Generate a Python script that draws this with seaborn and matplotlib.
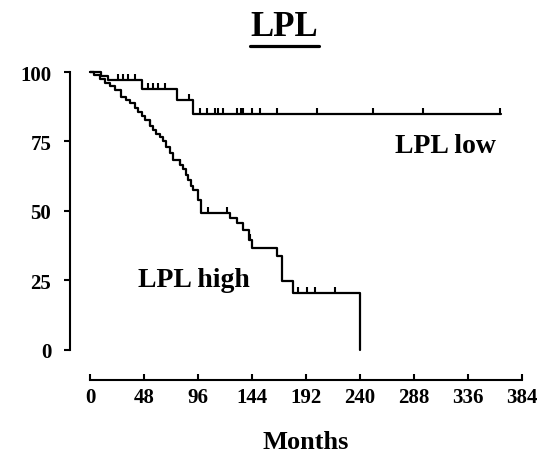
import numpy as np
import pandas as pd
import matplotlib
matplotlib.use('Agg')
import matplotlib.pyplot as plt
import seaborn as sns
from matplotlib.lines import Line2D

# Kaplan-Meier step data (months, survival %)
low_months = [0, 10, 16, 46, 77, 92, 366]
low_surv = [100, 98.5, 97, 94, 90, 85, 85]
low_cens_months = [25, 29.5, 34, 40, 51.6, 56, 60.5, 67, 88, 98, 104, 111, 114, 118,
                   131, 134, 136, 144, 151, 166, 202, 252, 296, 365]

high_months = [0, 4, 9, 13, 18, 22, 28, 32, 36, 40, 43, 46, 49, 53, 56, 59, 62, 65, 68,
               71, 74, 80, 83, 85, 87, 90, 92, 96, 99, 124.5, 130.5, 136.5, 141, 144,
               166, 170.5, 181, 240, 240]
high_surv = [100, 99, 97.5, 96, 95, 93.5, 91, 90, 88.7, 87, 85.7, 84, 82.7, 80.5, 79,
             77.5, 76.5, 75, 73, 71, 68.3, 66.5, 65, 63, 61, 59, 57.5, 54, 49.2, 47.4,
             45.5, 43.2, 39.6, 36.6, 33.6, 24.6, 20.4, 20.4, 0]
high_cens_months = [53, 80, 105, 121.6, 142, 185, 193, 200, 218]

x_ticks = [0, 48, 96, 144, 192, 240, 288, 336, 384]
y_ticks = [0, 25, 50, 75, 100]


def surv_at(months, surv, t):
    idx = np.searchsorted(months, t, side='right') - 1
    return surv[idx]


sns.set_style('ticks')
plt.rcParams['font.family'] = ['Liberation Serif', 'DejaVu Serif']
plt.rcParams['font.weight'] = 'bold'
plt.rcParams['text.color'] = 'black'
plt.rcParams['axes.labelcolor'] = 'black'

fig = plt.figure(figsize=(5.39, 4.56), dpi=100)
ax = fig.add_axes([90 / 539, 105.3 / 456, 431.7 / 539, 277.7 / 456])

df_low = pd.DataFrame({'Months': low_months, 'Survival': low_surv})
df_high = pd.DataFrame({'Months': high_months, 'Survival': high_surv})
# estimator=None so repeated months (the final drop) are not averaged
sns.lineplot(x='Months', y='Survival', data=df_low, drawstyle='steps-post',
             estimator=None, color='black', linewidth=1.6, sort=False,
             clip_on=False, ax=ax)
sns.lineplot(x='Months', y='Survival', data=df_high, drawstyle='steps-post',
             estimator=None, color='black', linewidth=1.6, sort=False,
             clip_on=False, ax=ax)

# censor ticks
low_cens_y = [surv_at(low_months, low_surv, t) for t in low_cens_months]
high_cens_y = [surv_at(high_months[:-1], high_surv[:-1], t) for t in high_cens_months]
ax.plot(low_cens_months, low_cens_y, linestyle='none', marker=2, markersize=4,
        markeredgewidth=1.5, color='black', clip_on=False)
ax.plot(high_cens_months, high_cens_y, linestyle='none', marker=2, markersize=4,
        markeredgewidth=1.5, color='black', clip_on=False)

ax.set_xlim(0, 384)
ax.set_ylim(0, 100)
ax.set_xticks(x_ticks)
ax.set_yticks(y_ticks)

for s in ['top', 'right']:
    ax.spines[s].set_visible(False)
ax.spines['left'].set_position(('outward', 14.4))
ax.spines['bottom'].set_position(('outward', 21.6))
ax.spines['left'].set_bounds(0, 100)
ax.spines['bottom'].set_bounds(0, 384)
for s in ['left', 'bottom']:
    ax.spines[s].set_color('black')
    ax.spines[s].set_linewidth(1.5)
ax.tick_params(axis='x', bottom=True, direction='in', length=4, width=1.5, pad=5,
               colors='black', labelsize=15)
ax.tick_params(axis='y', left=True, direction='out', length=4.5, width=1.5, pad=9,
               colors='black', labelsize=15)
for lab in ax.get_xticklabels() + ax.get_yticklabels():
    lab.set_fontweight('bold')

ax.set_xlabel('Months', fontsize=19, fontweight='bold', labelpad=17, color='black')
ax.set_ylabel('')

ax.text(316, 73.4, 'LPL low', fontsize=20, fontweight='bold', ha='center',
        va='center', color='black')
ax.text(92.5, 25.2, 'LPL high', fontsize=20, fontweight='bold', ha='center',
        va='center', color='black')

fig.text(284 / 539, 1 - 28 / 456, 'LPL', fontsize=25, fontweight='bold',
         ha='center', va='center', color='black')
fig.add_artist(Line2D([250 / 539, 319 / 539], [1 - 47 / 456, 1 - 47 / 456],
                      color='black', linewidth=2.3, transform=fig.transFigure))

fig.savefig('out.png', dpi=100)
